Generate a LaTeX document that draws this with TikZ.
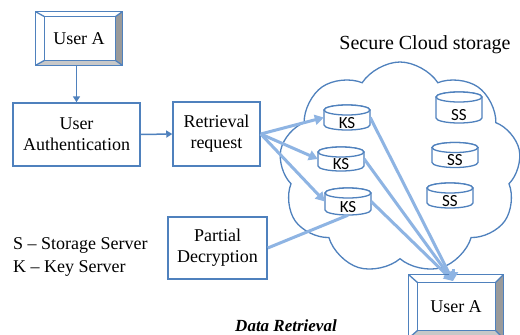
\documentclass[tikz,border=0pt]{standalone}
\usepackage{fontspec}
\setmainfont{Liberation Serif}
\newfontfamily\cylfont{Carlito}
\usetikzlibrary{shapes.symbols,arrows.meta}
\definecolor{bord}{HTML}{4F81BD}
\definecolor{arr}{HTML}{8EB4E3}
\definecolor{bevdark}{HTML}{9A9A9A}
\definecolor{bevlight}{HTML}{C8C8C8}
\tikzset{
 box/.style={draw=bord, line width=1.5pt, fill=white, align=center, inner sep=0pt, font=\fontsize{18}{21}\selectfont},
 bevelbox/.style={inner sep=0pt, font=\fontsize{18}{20}\selectfont},
 darrow/.style={draw=bord, line width=1.5pt, -{Triangle[length=6pt,width=7pt]}},
 larrow/.style={draw=arr, line width=3pt, -{Triangle[length=9pt,width=10pt]}},
 lline/.style={draw=arr, line width=3pt},
 cylline/.style={draw=bord, line width=1.3pt, fill=white},
 cylbox/.style={inner sep=0pt, minimum width=46pt, text depth=0pt, font=\cylfont\fontsize{17}{17}\selectfont},
 bevline/.style={draw=bord, line width=1.3pt}
}
% name, x, y, height, text height, text
\newcommand\mycyl[6]{%
 \path[cylline] ({#2-23},{#3-#4/2+5}) -- ({#2-23},{#3+#4/2-5})
   arc[start angle=180,end angle=360,x radius=23pt,y radius=5pt]
   -- ({#2+23},{#3-#4/2+5})
   arc[start angle=0,end angle=180,x radius=23pt,y radius=5pt] -- cycle;
 \draw[cylline] ({#2},{#3-#4/2+5}) ellipse[x radius=23pt,y radius=5pt];
 \node[cylbox, minimum height=#4pt, text height=#5pt] (#1) at (#2,#3) {#6};
}
% name, left, top, right, bottom insets
\newcommand\mybevel[5]{%
 \fill[bevdark] (#1.north east) -- (#1.south east)
   -- ([xshift=-#4pt,yshift=#5pt]#1.south east) -- ([xshift=-#4pt,yshift=-#3pt]#1.north east) -- cycle;
 \fill[bevlight] (#1.south west) -- (#1.south east)
   -- ([xshift=-#4pt,yshift=#5pt]#1.south east) -- ([xshift=#2pt,yshift=#5pt]#1.south west) -- cycle;
 \draw[bevline] (#1.north west) rectangle (#1.south east);
 \draw[bevline] ([xshift=#2pt,yshift=-#3pt]#1.north west) rectangle ([xshift=-#4pt,yshift=#5pt]#1.south east);
 \draw[bevline] (#1.north west) -- ([xshift=#2pt,yshift=-#3pt]#1.north west);
 \draw[bevline] (#1.north east) -- ([xshift=-#4pt,yshift=-#3pt]#1.north east);
 \draw[bevline] (#1.south west) -- ([xshift=#2pt,yshift=#5pt]#1.south west);
 \draw[bevline] (#1.south east) -- ([xshift=-#4pt,yshift=#5pt]#1.south east);
}
\begin{document}
\begin{tikzpicture}[x=1pt,y=-1pt]
\useasboundingbox (0,0) rectangle (520,335);
\fill[white] (0,0) rectangle (520,335);

% cloud
\node[cloud, draw=bord, line width=1.3pt, cloud puffs=9, cloud puff arc=115,
      minimum width=242pt, minimum height=212pt, inner sep=0pt] (cloud) at (400,168) {};
\node[font=\fontsize{20}{22}\selectfont] (title) at (425,45) {Secure Cloud storage};

% top user
\node[bevelbox, minimum width=86pt, minimum height=53pt] (ua) at (79,38.5) {User A};
\mybevel{ua}{9}{5}{7}{5}

% boxes
\node[box, minimum width=127pt, minimum height=63pt] (auth) at (76.5,134.5) {User\\Authentication};
\node[box, minimum width=87pt, minimum height=64pt] (retr) at (216.5,134) {Retrieval\\request};
\node[box, minimum width=99pt, minimum height=62pt] (pd) at (217.5,248) {Partial\\Decryption};

% legend
\node[anchor=west, align=left, inner sep=0pt, font=\fontsize{18}{23}\selectfont] (legend) at (13,256.5)
  {S -- Storage Server\\K -- Key Server};

% cylinders
\mycyl{ks1}{347}{117.5}{25}{21}{KS}
\mycyl{ks2}{341}{159}{24}{20}{KS}
\mycyl{ks3}{348}{201.5}{27}{22}{KS}
\mycyl{ss1}{459}{107.5}{31}{26}{SS}
\mycyl{ss2}{455}{155}{25}{21}{SS}
\mycyl{ss3}{450}{195.5}{25}{21}{SS}

% bottom user
\node[bevelbox, minimum width=94pt, minimum height=63pt] (ub) at (456,306.5) {User A};
\coordinate (tgt) at (453,281);

% connectors
\draw[darrow] (ua.south -| auth.north) -- (auth.north);
\draw[darrow] (auth.east) -- (retr.west);
\draw[larrow] (retr.east) -- (ks1.west);
\draw[larrow] (retr.east) -- (ks2.west);
\draw[larrow] (retr.east) -- (ks3.west);
\draw[lline] (pd.east) -- (ks3.south);
\draw[larrow] (ks1.east) -- (tgt);
\draw[larrow] (ks2.east) -- (tgt);
\draw[larrow] (ks3.east) -- (tgt);
\mybevel{ub}{9}{8}{8}{8}
\draw[larrow] ([yshift=12pt]tgt) -- (tgt);

\node[font=\fontsize{17}{20}\selectfont\bfseries\itshape] (cap) at (286,326) {Data Retrieval};
\end{tikzpicture}
\end{document}
